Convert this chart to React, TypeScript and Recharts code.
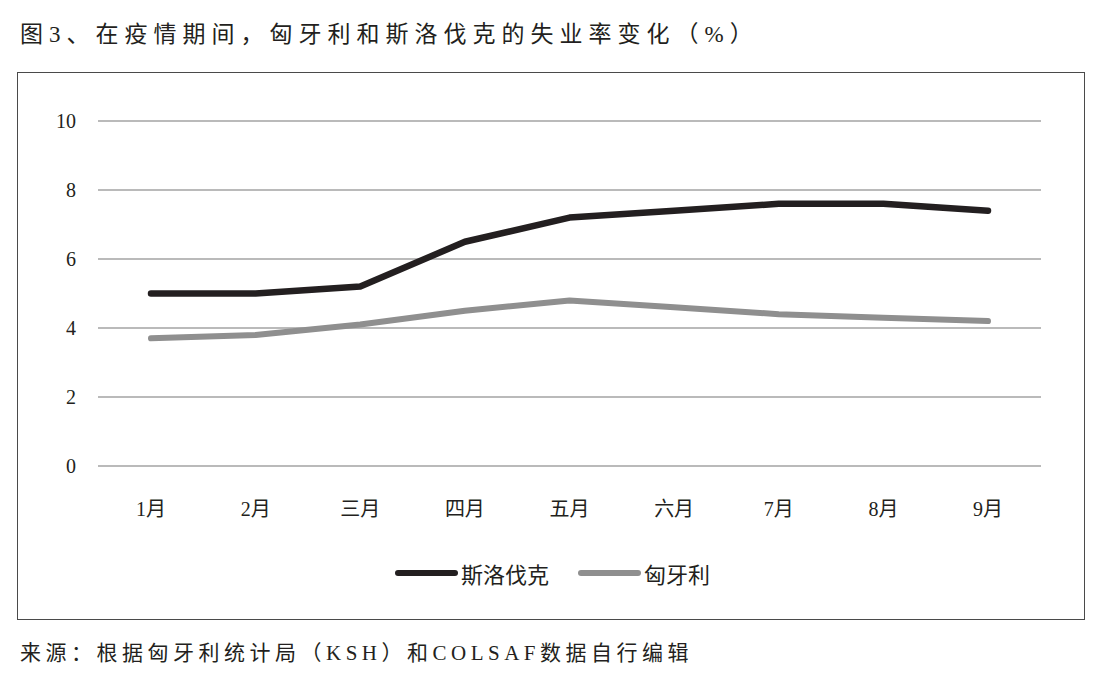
import { LineChart, Line, XAxis, YAxis, CartesianGrid } from "recharts"

const months = ["1月", "2月", "三月", "四月", "五月", "六月", "7月", "8月", "9月"]
const slovakia = [5.0, 5.0, 5.2, 6.5, 7.2, 7.4, 7.6, 7.6, 7.4]
const hungary = [3.7, 3.8, 4.1, 4.5, 4.8, 4.6, 4.4, 4.3, 4.2]
const yTicks = [0, 2, 4, 6, 8, 10]

const seriesNames = { sk: "斯洛伐克", hu: "匈牙利" }
const colors = { sk: "#231f20", hu: "#8f8f8f" }

const data = months.map((m, i) => ({ month: m, sk: slovakia[i], hu: hungary[i] }))

const font = "'Liberation Serif', 'Noto Sans CJK SC', serif"
const textColor = "#231f20"

function LegendItem({ color, label }: { color: string; label: string }) {
  return (
    <div style={{ display: "flex", alignItems: "center" }}>
      <div style={{ width: 63, height: 6, borderRadius: 3, background: color, marginRight: 3 }} />
      <span style={{ fontSize: 22, color: textColor }}>{label}</span>
    </div>
  )
}

export default function App() {
  return (
    <div
      style={{
        position: "absolute",
        left: 0,
        top: 0,
        width: 1100,
        height: 682,
        background: "#fff",
        fontFamily: font,
        color: textColor,
      }}
    >
      <div style={{ position: "absolute", left: 20, top: 15, fontSize: 23, letterSpacing: 6, whiteSpace: "nowrap" }}>
        图3、在疫情期间，匈牙利和斯洛伐克的失业率变化（%）
      </div>

      <div
        style={{
          position: "absolute",
          left: 17,
          top: 72,
          width: 1066,
          height: 546,
          border: "1px solid #4a4a4a",
        }}
      >
        <LineChart width={1066} height={546} data={data} margin={{ top: 48, right: 43, left: 20, bottom: 93 }}>
          <CartesianGrid vertical={false} stroke="#a3a3a3" strokeWidth={1.5} />
          <XAxis
            dataKey="month"
            axisLine={false}
            tickLine={false}
            height={60}
            tickMargin={30}
            padding={{ left: 53, right: 53 }}
            tick={{ fontSize: 20, fill: textColor, fontFamily: font }}
          />
          <YAxis
            domain={[0, 10]}
            ticks={yTicks}
            axisLine={false}
            tickLine={false}
            width={60}
            tickMargin={16}
            tick={{ fontSize: 20, fill: textColor, fontFamily: font }}
          />
          <Line
            type="linear"
            dataKey="sk"
            name={seriesNames.sk}
            stroke={colors.sk}
            strokeWidth={6.5}
            strokeLinecap="round"
            strokeLinejoin="round"
            dot={false}
            isAnimationActive={false}
          />
          <Line
            type="linear"
            dataKey="hu"
            name={seriesNames.hu}
            stroke={colors.hu}
            strokeWidth={6}
            strokeLinecap="round"
            strokeLinejoin="round"
            dot={false}
            isAnimationActive={false}
          />
        </LineChart>
        <div
          style={{
            position: "absolute",
            left: 377,
            top: 484,
            display: "flex",
            gap: 29,
          }}
        >
          <LegendItem color={colors.sk} label={seriesNames.sk} />
          <LegendItem color={colors.hu} label={seriesNames.hu} />
        </div>
      </div>

      <div style={{ position: "absolute", left: 20, top: 636, fontSize: 21, letterSpacing: 4.5, whiteSpace: "nowrap" }}>
        来源：根据匈牙利统计局（KSH）和COLSAF数据自行编辑
      </div>
    </div>
  )
}
